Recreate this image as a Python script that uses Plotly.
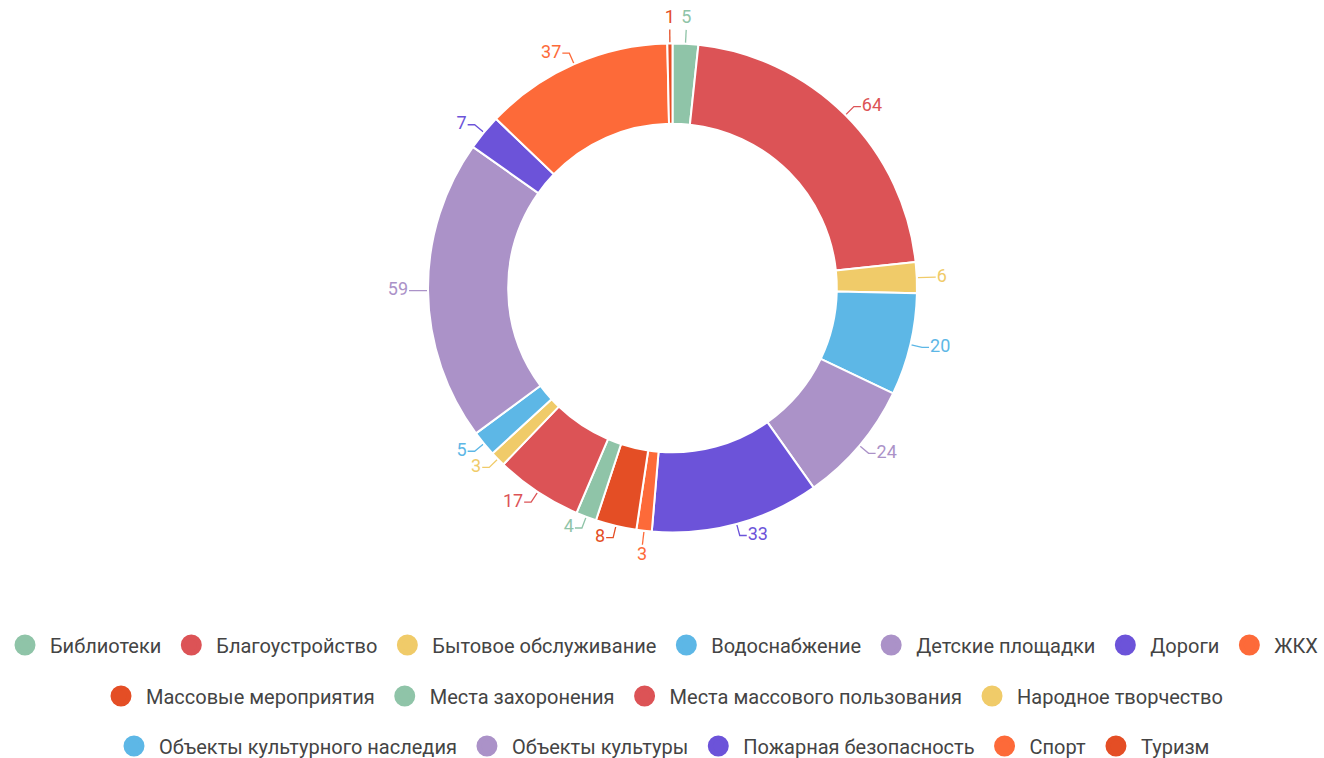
import math
import plotly.graph_objects as go

categories = ["Библиотеки", "Благоустройство", "Бытовое обслуживание", "Водоснабжение",
              "Детские площадки", "Дороги", "ЖКХ", "Массовые мероприятия",
              "Места захоронения", "Места массового пользования", "Народное творчество",
              "Объекты культурного наследия", "Объекты культуры", "Пожарная безопасность",
              "Спорт", "Туризм"]
values = [5, 64, 6, 20, 24, 33, 3, 8, 4, 17, 3, 5, 59, 7, 37, 1]
colors = ["#8fc4a8", "#dc5356", "#f0cb69", "#5db7e6", "#ab92c8", "#6c53d9", "#fd6a39", "#e44e25",
          "#8fc4a8", "#dc5356", "#f0cb69", "#5db7e6", "#ab92c8", "#6c53d9", "#fd6a39", "#e44e25"]
legend_rows = [7, 4, 5]

W, H = 1324, 758
cx, cy, R = 672.5, 288.0, 244.5
hole = 0.672

fig = go.Figure()

fig.add_trace(go.Pie(
    labels=categories, values=values, sort=False, direction="clockwise", rotation=0,
    hole=hole, marker=dict(colors=colors, line=dict(color="white", width=2)),
    textinfo="none", hoverinfo="label+value", showlegend=False,
    domain=dict(x=[(cx - R) / W, (cx + R) / W], y=[1 - (cy + R) / H, 1 - (cy - R) / H]),
))

# leader lines and labels computed from values
total = sum(values)
cum = 0
tx, ty, tpos, tcol, ttext = [], [], [], [], []
for v, c in zip(values, colors):
    mid = (cum + v / 2) / total * 2 * math.pi
    cum += v
    s, co = math.sin(mid), -math.cos(mid)
    p0 = (cx + (R + 1) * s, cy + (R + 1) * co)
    if abs(s) < 0.15:
        p1 = (cx + (R + 14) * s, cy + (R + 14) * co)
        xs, ys = [p0[0], p1[0]], [p0[1], p1[1]]
        lx, ly = cx + (R + 16) * s, cy + (R + 16) * co
        pos = "top center" if co < 0 else "bottom center"
    else:
        p1 = (cx + (R + 12) * s, cy + (R + 12) * co)
        d = 1 if s > 0 else -1
        p2 = (p1[0] + 7 * d, p1[1])
        xs, ys = [p0[0], p1[0], p2[0]], [p0[1], p1[1], p2[1]]
        lx, ly = p2[0] + 1 * d, p2[1]
        pos = "middle right" if d > 0 else "middle left"
    fig.add_trace(go.Scatter(x=xs, y=ys, mode="lines", line=dict(color=c, width=1.3),
                             showlegend=False, hoverinfo="skip"))
    tx.append(lx); ty.append(ly); tpos.append(pos); tcol.append(c); ttext.append(str(v))

fig.add_trace(go.Scatter(x=tx, y=ty, mode="text", text=ttext, textposition=tpos,
                         textfont=dict(family="Roboto", size=18, color=tcol),
                         showlegend=False, hoverinfo="skip"))

# legend entries with circular markers
names = ["legend", "legend2", "legend3"]
idx = 0
for r, n in enumerate(legend_rows):
    for _ in range(n):
        fig.add_trace(go.Scatter(x=[None], y=[None], mode="markers", name=categories[idx],
                                 marker=dict(symbol="circle", size=16, color=colors[idx],
                                             line=dict(color=colors[idx], width=6)),
                                 legend=names[r]))
        idx += 1

leg_common = dict(orientation="h", xanchor="center", x=0.5, yanchor="middle",
                  xref="container", yref="container", itemwidth=40,
                  font=dict(family="Roboto", size=20, color="#444444"),
                  bgcolor="rgba(0,0,0,0)", itemclick=False, itemdoubleclick=False)
fig.update_layout(
    width=W, height=H, margin=dict(l=0, r=0, t=0, b=0, autoexpand=False),
    paper_bgcolor="white", plot_bgcolor="white",
    xaxis=dict(range=[0, W], visible=False, fixedrange=True, domain=[0, 1]),
    yaxis=dict(range=[H, 0], visible=False, fixedrange=True, domain=[0, 1]),
    legend=dict(y=1 - 645 / H, **leg_common),
    legend2=dict(y=1 - 696 / H, **leg_common),
    legend3=dict(y=1 - 746 / H, **leg_common),
)

fig.write_html("out.html", config={"displayModeBar": False},
               post_script="document.body.style.margin='0';document.body.style.overflow='hidden';")
